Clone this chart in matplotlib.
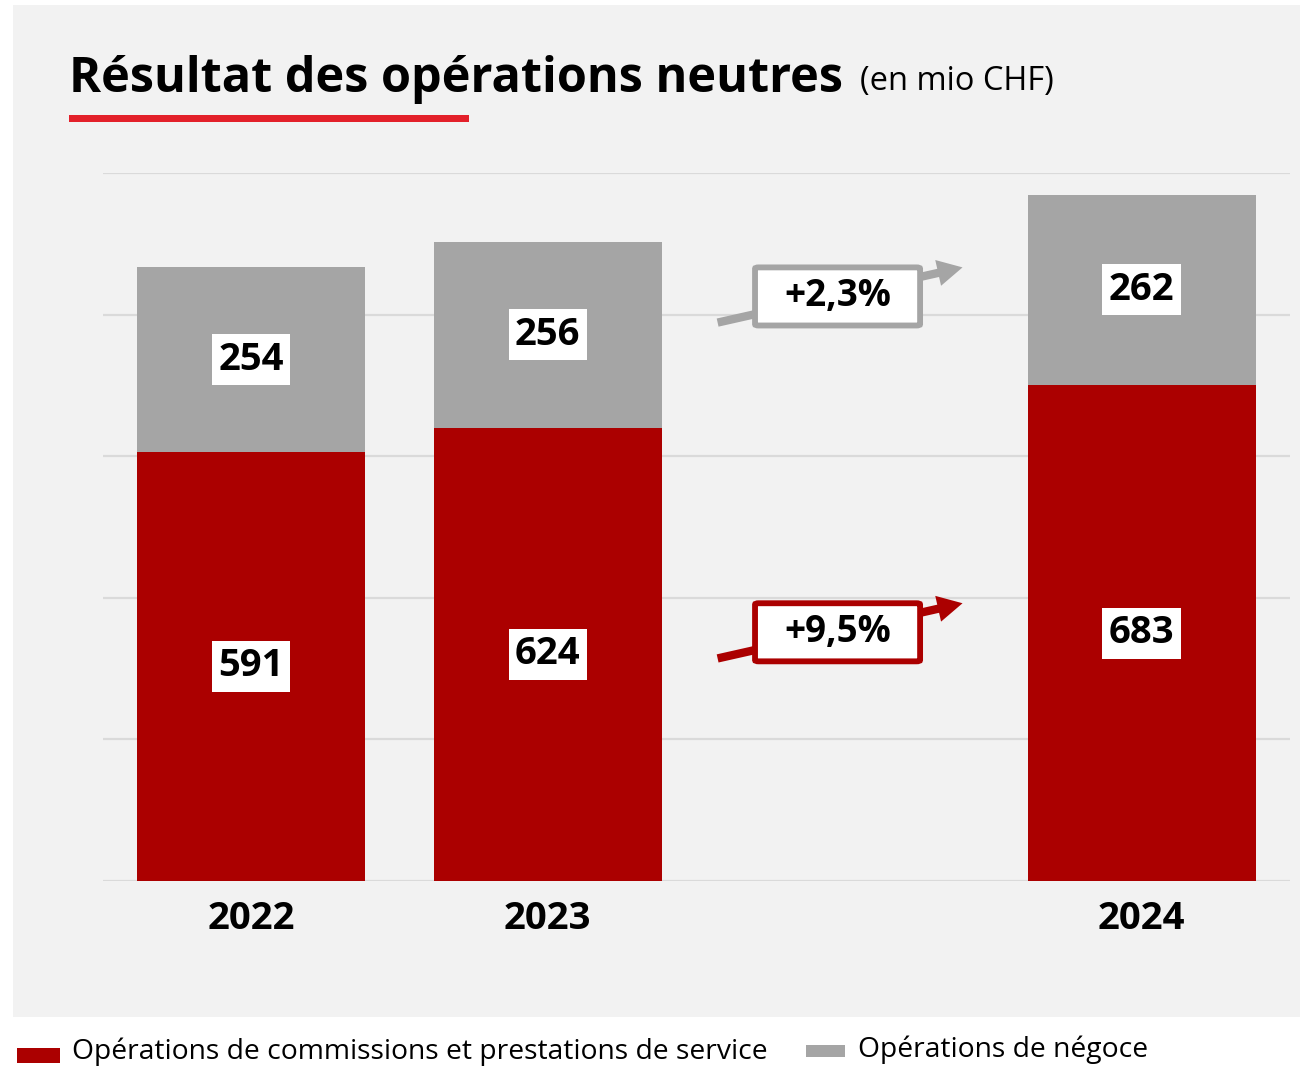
import matplotlib.pyplot as plt
from matplotlib.patches import Rectangle, FancyBboxPatch

plt.rcParams['font.family'] = ['Open Sans', 'DejaVu Sans']

# data
years = ['2022', '2023', '2024']
positions = [0, 1, 3]          # slot 2 is left empty for the growth arrows
commissions = [591, 624, 683]
negoce = [254, 256, 262]
growth_commissions = '+9,5%'
growth_negoce = '+2,3%'
legend_labels = ['Opérations de commissions et prestations de service',
                 'Opérations de négoce']

RED = '#ab0000'
GREY = '#a5a5a5'
PANEL = '#f2f2f2'
GRID = '#dadada'

W, H = 1307, 1067
fig = plt.figure(figsize=(W / 100, H / 100), dpi=100)
fig.patch.set_facecolor('white')

def fx(px):
    return px / W

def fy(py):
    return 1 - py / H

# grey panel behind the chart
fig.patches.append(Rectangle((fx(13), fy(1017)), fx(1300) - fx(13), fy(5) - fy(1017),
                             transform=fig.transFigure, facecolor=PANEL,
                             edgecolor='none', zorder=-5))

# title + red underline
fig.text(fx(69), fy(92), 'Résultat des opérations neutres', fontsize=35,
         fontweight='bold', va='baseline', ha='left')
fig.text(fx(860), fy(90), '(en mio CHF)', fontsize=23.5, va='baseline', ha='left')
fig.patches.append(Rectangle((fx(69), fy(122)), fx(469) - fx(69), fy(115) - fy(122),
                             transform=fig.transFigure, facecolor='#e3202a',
                             edgecolor='none', zorder=1))

ax = fig.add_axes([fx(102.5), fy(881), fx(1290) - fx(102.5), fy(173) - fy(881)])
ax.set_zorder(2)
ax.set_facecolor('none')
ax.set_xlim(-0.5, 3.5)
ax.set_ylim(0, 975)
ax.set_yticks(range(0, 976, 195))
ax.yaxis.grid(True, color=GRID, lw=1.6, zorder=0)
ax.set_axisbelow(True)
for s in ax.spines.values():
    s.set_visible(False)
ax.tick_params(left=False, bottom=False, labelleft=False)
ax.set_xticks(positions)
ax.set_xticklabels(years, fontsize=27.5, fontweight='bold')
ax.tick_params(axis='x', pad=10)

width = 0.768
ax.bar(positions, commissions, width, color=RED, zorder=2)
ax.bar(positions, negoce, width, bottom=commissions, color=GREY, zorder=2)

box = dict(boxstyle='square,pad=0.17', facecolor='white', edgecolor='none')
for x, c, n in zip(positions, commissions, negoce):
    ax.text(x, c / 2, str(c), ha='center', va='center', fontsize=27.5,
            fontweight='bold', bbox=box, zorder=4)
    ax.text(x, c + n / 2, str(n), ha='center', va='center', fontsize=27.5,
            fontweight='bold', bbox=box, zorder=4)

# growth arrows with labelled boxes, placed around the middle of each 2024 segment
def growth(yc, label, color):
    x0, x1 = 1.572, 2.397
    ax.annotate('', xy=(x1, yc + 38), xytext=(x0, yc - 38),
                arrowprops=dict(arrowstyle='simple,head_length=0.9,head_width=0.95,tail_width=0.3',
                                facecolor=color, edgecolor='none', lw=0,
                                mutation_scale=20, shrinkA=0, shrinkB=0),
                zorder=3)
    bw, bh = 0.556, 80
    ax.add_patch(FancyBboxPatch((1.976 - bw / 2, yc - 2 - bh / 2), bw, bh,
                                boxstyle='round,pad=0,rounding_size=0.012',
                                facecolor='white', edgecolor=color, lw=4.2,
                                mutation_aspect=150, zorder=4))
    ax.text(1.976, yc - 2, label, ha='center', va='center', fontsize=26.5,
            fontweight='bold', zorder=5)

growth(commissions[2] / 2 + 3, growth_commissions, RED)
growth(commissions[2] + negoce[2] / 2 - 7, growth_negoce, GREY)

# legend
fig.patches.append(Rectangle((fx(17), fy(1063)), fx(60) - fx(17), fy(1048) - fy(1063),
                             transform=fig.transFigure, facecolor=RED, edgecolor='none'))
fig.text(fx(72), fy(1052), legend_labels[0], fontsize=20.3, va='center', ha='left')
fig.patches.append(Rectangle((fx(806), fy(1057)), fx(845) - fx(806), fy(1045) - fy(1057),
                             transform=fig.transFigure, facecolor=GREY, edgecolor='none'))
fig.text(fx(858), fy(1050), legend_labels[1], fontsize=20.3, va='center', ha='left')

fig.savefig('out.png', dpi=100)
